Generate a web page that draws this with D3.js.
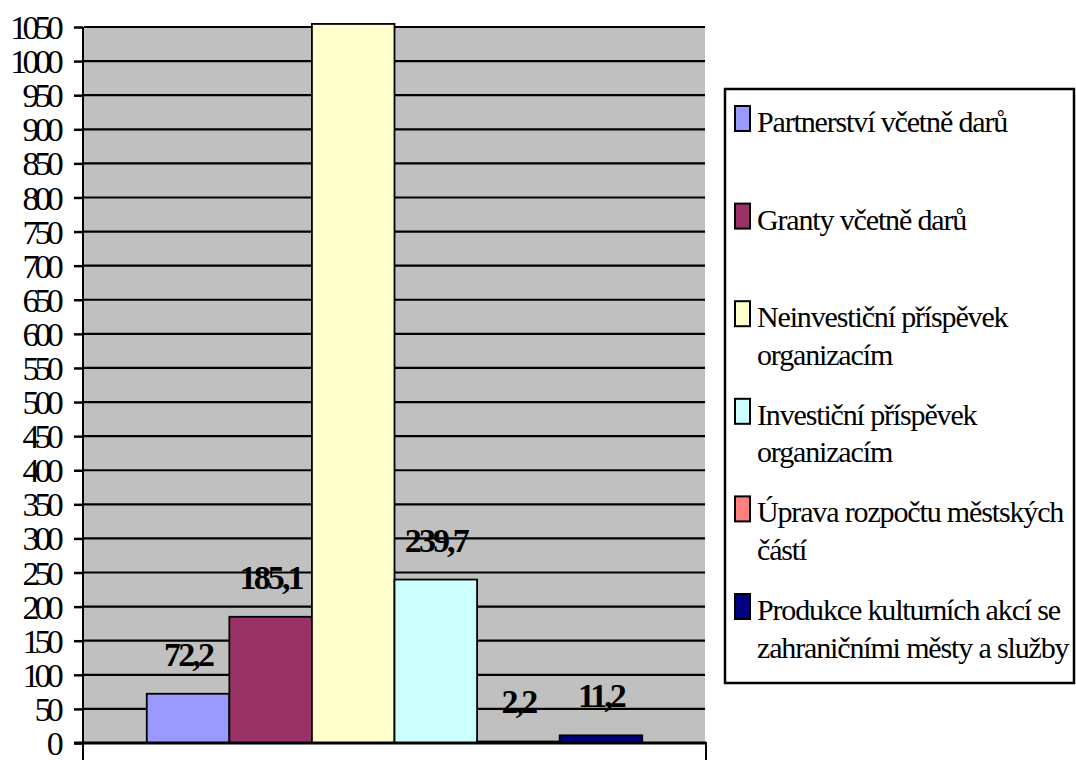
<html>
<head>
<meta charset="utf-8">
<script src="https://cdn.jsdelivr.net/npm/d3@7"></script>
<style>
  body { margin: 0; background: #fff; }
  svg text { font-family: "Liberation Serif", "Times New Roman", serif; fill: #000; }
  .tick-label { font-size: 34px; letter-spacing: -4.8px; }
  .value-label { font-size: 34px; font-weight: bold; letter-spacing: -2.9px; }
  .legend-label { font-size: 30px; letter-spacing: -1.15px; }
</style>
</head>
<body>
<svg width="1076" height="760"></svg>
<script>
  // Data:
  var series = [
    "Partnerství včetně darů",
    "Granty včetně darů",
    "Neinvestiční příspěvek organizacím",
    "Investiční příspěvek organizacím",
    "Úprava rozpočtu městských částí",
    "Produkce kulturních akcí se zahraničními městy a služby"
  ];
  var values = [72.2, 185.1, 1054.5, 239.7, 2.2, 11.2];
  var valueLabels = ["72,2", "185,1", "1054,5", "239,7", "2,2", "11,2"];
  var colors = ["#9999FF", "#993366", "#FFFFCC", "#CCFFFF", "#FF8080", "#000080"];
  // legend text, broken into lines like the original
  var legendLines = [
    ["Partnerství včetně darů"],
    ["Granty včetně darů"],
    ["Neinvestiční příspěvek", "organizacím"],
    ["Investiční příspěvek", "organizacím"],
    ["Úprava rozpočtu městských", "částí"],
    ["Produkce kulturních akcí se", "zahraničními městy a služby"]
  ];
  var yTicks = d3.range(0, 1051, 50);

  var serif = "'Liberation Serif'";
  var svg = d3.select("svg");
  var plot = { left: 84, right: 705, top: 27, bottom: 743 };

  var y = d3.scaleLinear().domain([0, 1050]).range([plot.bottom, plot.top]);
  var x = d3.scaleBand().domain(series).range([plot.left, plot.right])
      .paddingInner(0).paddingOuter(0.76);

  // plot background
  svg.append("rect")
      .attr("x", plot.left).attr("y", plot.top)
      .attr("width", plot.right - plot.left).attr("height", plot.bottom - plot.top)
      .attr("fill", "#C0C0C0");

  // white category area below the zero line
  svg.append("rect")
      .attr("x", plot.left - 1).attr("y", plot.bottom)
      .attr("width", plot.right - plot.left + 2).attr("height", 30)
      .attr("fill", "#fff").attr("stroke", "#000").attr("stroke-width", 2);

  // gridlines
  svg.append("g").selectAll("line")
    .data(yTicks.filter(function(d) { return d > 0; }))
    .enter().append("line")
      .attr("x1", plot.left).attr("x2", plot.right)
      .attr("y1", function(d) { return y(d); }).attr("y2", function(d) { return y(d); })
      .attr("stroke", "#000").attr("stroke-width", 2.2);

  // bars
  svg.append("g").selectAll("rect")
    .data(values)
    .enter().append("rect")
      .attr("x", function(d, i) { return x(series[i]); })
      .attr("y", function(d) { return y(d); })
      .attr("width", x.bandwidth())
      .attr("height", function(d) { return y(0) - y(d); })
      .attr("fill", function(d, i) { return colors[i]; })
      .attr("stroke", "#000").attr("stroke-width", 1.8);

  // y axis
  var axis = svg.append("g")
      .attr("transform", "translate(" + (plot.left - 1) + ",0)")
      .call(d3.axisLeft(y).tickValues(yTicks).tickSize(9).tickPadding(15).tickFormat(d3.format("d")))
      .attr("font-family", serif).attr("font-size", null);
  axis.select(".domain").remove();
  axis.selectAll(".tick line").attr("stroke", "#000").attr("stroke-width", 2.5);
  axis.selectAll(".tick text")
      .attr("class", "tick-label")
      .attr("font-family", serif)
      .attr("dy", "0.34em");
  svg.append("line")
      .attr("x1", plot.left - 1).attr("x2", plot.left - 1)
      .attr("y1", plot.top).attr("y2", 760)
      .attr("stroke", "#000").attr("stroke-width", 2);
  // zero line
  svg.append("line")
      .attr("x1", plot.left - 10).attr("x2", plot.right + 1)
      .attr("y1", y(0)).attr("y2", y(0))
      .attr("stroke", "#000").attr("stroke-width", 3);

  // value labels (the one above the plot is cut off in the original)
  var shown = values.map(function(v, i) { return i; })
      .filter(function(i) { return values[i] <= 1050; });
  svg.append("g").selectAll("text")
    .data(shown)
    .enter().append("text")
      .attr("class", "value-label")
      .attr("font-family", serif)
      .attr("x", function(i) { return x(series[i]) + x.bandwidth() / 2; })
      .attr("y", function(i) { return y(values[i]) - 28; })
      .attr("text-anchor", "middle")
      .text(function(i) { return valueLabels[i]; });

  // legend
  var legend = svg.append("g");
  legend.append("rect")
      .attr("x", 725).attr("y", 89).attr("width", 349).attr("height", 594)
      .attr("fill", "#fff").attr("stroke", "#000").attr("stroke-width", 2.5);
  var entries = legend.selectAll("g.entry")
    .data(legendLines)
    .enter().append("g")
      .attr("class", "entry")
      .attr("transform", function(d, i) { return "translate(735," + (132 + i * 97.6) + ")"; });
  entries.append("rect")
      .attr("x", 0).attr("y", -26).attr("width", 15).attr("height", 25)
      .attr("fill", function(d, i) { return colors[i]; })
      .attr("stroke", "#000").attr("stroke-width", 2);
  entries.each(function(lines) {
    var g = d3.select(this);
    lines.forEach(function(line, j) {
      g.append("text")
        .attr("class", "legend-label")
        .attr("font-family", serif)
        .attr("x", 22).attr("y", j * 37.5)
        .text(line);
    });
  });
</script>
</body>
</html>
